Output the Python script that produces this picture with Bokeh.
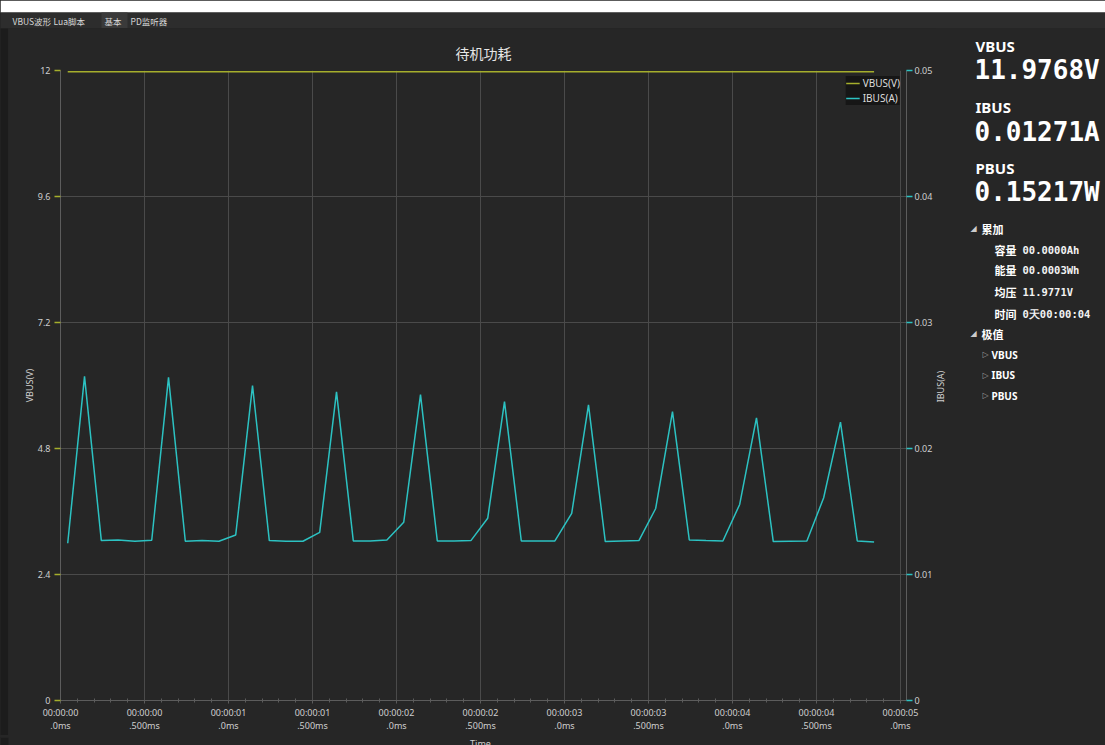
import math
from bokeh.plotting import figure
from bokeh.layouts import row, column
from bokeh.models import (Range1d, LinearAxis, FixedTicker, Label, Legend, LegendItem)
from bokeh.embed import file_html
from bokeh.resources import INLINE

# ---------------- data ----------------
time_s = [0.043, 0.143, 0.243, 0.343, 0.443, 0.543, 0.643, 0.743, 0.843, 0.943,
          1.043, 1.143, 1.243, 1.343, 1.443, 1.543, 1.643, 1.743, 1.843, 1.943,
          2.043, 2.143, 2.243, 2.343, 2.443, 2.543, 2.643, 2.743, 2.843, 2.943,
          3.043, 3.143, 3.243, 3.343, 3.443, 3.543, 3.643, 3.743, 3.843, 3.943,
          4.043, 4.143, 4.243, 4.343, 4.443, 4.543, 4.643, 4.743, 4.843]

vbus_v = [11.977, 11.977, 11.977, 11.977, 11.977, 11.977, 11.977, 11.977, 11.977, 11.977,
          11.977, 11.977, 11.977, 11.977, 11.977, 11.977, 11.977, 11.977, 11.977, 11.977,
          11.977, 11.977, 11.977, 11.977, 11.977, 11.977, 11.977, 11.977, 11.977, 11.977,
          11.977, 11.977, 11.977, 11.977, 11.977, 11.977, 11.977, 11.977, 11.977, 11.977,
          11.977, 11.977, 11.977, 11.977, 11.977, 11.977, 11.977, 11.977, 11.977]

ibus_a = [0.01248, 0.02573, 0.01269, 0.01274, 0.01264, 0.01272, 0.02565, 0.01264, 0.01269, 0.01264,
          0.01314, 0.02499, 0.01269, 0.01264, 0.01264, 0.01335, 0.02450, 0.01266, 0.01266, 0.01274,
          0.01414, 0.02427, 0.01266, 0.01266, 0.01269, 0.01446, 0.02372, 0.01266, 0.01266, 0.01266,
          0.01485, 0.02346, 0.01261, 0.01266, 0.01269, 0.01524, 0.02293, 0.01274, 0.01269, 0.01266,
          0.01556, 0.02243, 0.01261, 0.01264, 0.01266, 0.01609, 0.02209, 0.01266, 0.01258]

x_tick_values = [0.0, 0.5, 1.0, 1.5, 2.0, 2.5, 3.0, 3.5, 4.0, 4.5, 5.0]
x_tick_labels = ["00:00:00\n.0ms", "00:00:00\n.500ms", "00:00:01\n.0ms", "00:00:01\n.500ms",
                 "00:00:02\n.0ms", "00:00:02\n.500ms", "00:00:03\n.0ms", "00:00:03\n.500ms",
                 "00:00:04\n.0ms", "00:00:04\n.500ms", "00:00:05\n.0ms"]
x_minor_ticks = [0.1, 0.2, 0.3, 0.4, 0.6, 0.7, 0.8, 0.9, 1.1, 1.2, 1.3, 1.4, 1.6, 1.7, 1.8, 1.9,
                 2.1, 2.2, 2.3, 2.4, 2.6, 2.7, 2.8, 2.9, 3.1, 3.2, 3.3, 3.4, 3.6, 3.7, 3.8, 3.9,
                 4.1, 4.2, 4.3, 4.4, 4.6, 4.7, 4.8, 4.9]
vbus_ticks = [0, 2.4, 4.8, 7.2, 9.6, 12]
ibus_ticks = [0, 0.01, 0.02, 0.03, 0.04, 0.05]

chart_title = "待机功耗"
x_title = "Time"
y_title_left = "VBUS(V)"
y_title_right = "IBUS(A)"
tab_names = ["VBUS波形", "Lua脚本", "基本", "PD监听器"]
live_names = ["VBUS", "IBUS", "PBUS"]
live_values = ["11.9768V", "0.01271A", "0.15217W"]
acc_names = ["容量", "能量", "均压", "时间"]
acc_values = ["00.0000Ah", "00.0003Wh", "11.9771V", "0天00:00:04"]
extreme_names = ["VBUS", "IBUS", "PBUS"]

# ---------------- style ----------------
BG = "#262626"
EDGE_BG = "#1c1c1c"
TAB_BG = "#2d2d2d"
GRID = "#4a4a4a"
AXIS = "#5c5c5c"
TXT = "#cfcfcf"
VCOL = "#a5ae2c"
ICOL = "#2cc2c2"
UI_FONT = "Noto Sans"
CJK_FONT = "Noto Sans CJK SC"
MONO = "DejaVu Sans Mono"

EDGE_W = 8
MAIN_RIGHT = 935
MID_H = 707


def panel(w, h, x0, y0, bg=BG):
    # a blank canvas whose data units are window pixels (y downwards)
    return figure(width=w, height=h, output_backend="svg", toolbar_location=None,
                  title=None,
                  x_range=Range1d(x0, x0 + w), y_range=Range1d(y0 + h, y0),
                  x_axis_type=None, y_axis_type=None,
                  min_border_left=0, min_border_right=0, min_border_top=0, min_border_bottom=0,
                  background_fill_color=bg, border_fill_color=bg, outline_line_color=None)


def lab(f, text, x, y, size, color="#ffffff", font=UI_FONT, style="normal",
        align="left", baseline="alphabetic", angle=0.0):
    f.add_layout(Label(x=x, y=y, text=text, text_font=font, text_font_size=size,
                       text_font_style=style, text_color=color, text_align=align,
                       text_baseline=baseline, angle=angle))


# ---------------- top strip (tabs) ----------------
top = panel(1105, 28, 0, 0)
top.quad(left=[0], right=[1105], top=[0], bottom=[12], fill_color="#ffffff", line_color=None)
top.quad(left=[0], right=[1105], top=[12], bottom=[28], fill_color=TAB_BG, line_color=None)
top.quad(left=[101], right=[127], top=[12], bottom=[28], fill_color="#3a3a3a", line_color=None)
tab_x = [12, 53, 104, 130]
for name, x in zip(tab_names, tab_x):
    lab(top, name, x, 20.5, "8.5px", color="#d8d8d8", font=CJK_FONT)

# ---------------- left window edge ----------------
edge = panel(EDGE_W, MID_H, 0, 28, bg=EDGE_BG)

# ---------------- main chart ----------------
p = figure(width=MAIN_RIGHT - EDGE_W, height=MID_H, output_backend="svg", toolbar_location=None,
           x_range=Range1d(0, 5.036), y_range=Range1d(0, 12),
           min_border_left=60 - EDGE_W, min_border_right=MAIN_RIGHT - 906, min_border_top=42,
           min_border_bottom=MID_H - 42 - 633,
           background_fill_color=BG, border_fill_color=BG, outline_line_color=None,
           title=chart_title)
p.title.align = "center"
p.title.text_font = CJK_FONT
p.title.text_font_size = "14px"
p.title.text_font_style = "normal"
p.title.text_color = "#e6e6e6"
p.title.standoff = 15

xa = p.xaxis[0]
xa.ticker = FixedTicker(ticks=x_tick_values, minor_ticks=x_minor_ticks)
xa.major_label_overrides = {v: t for v, t in zip(x_tick_values, x_tick_labels)}
xa.axis_line_color = AXIS
xa.major_tick_line_color = AXIS
xa.major_tick_out = 3
xa.major_tick_in = 0
xa.minor_tick_line_color = AXIS
xa.minor_tick_out = 2
xa.minor_tick_in = 2
xa.major_label_text_color = TXT
xa.major_label_text_font = UI_FONT
xa.major_label_text_font_size = "9px"
xa.major_label_text_line_height = 1.05
xa.major_label_standoff = 2

p.extra_y_ranges = {"ibus": Range1d(0, 0.05)}

ya = p.yaxis[0]
ya.ticker = FixedTicker(ticks=vbus_ticks)
ya.axis_line_color = AXIS
ya.major_tick_line_color = VCOL
ya.major_tick_line_width = 1.5
ya.major_tick_out = 6
ya.major_tick_in = 0
ya.minor_tick_line_color = None
ya.major_label_text_color = TXT
ya.major_label_text_font = UI_FONT
ya.major_label_text_font_size = "9px"
ya.major_label_standoff = 4
ya.axis_label = y_title_left
ya.axis_label_text_font = UI_FONT
ya.axis_label_text_font_size = "9px"
ya.axis_label_text_font_style = "normal"
ya.axis_label_text_color = TXT
ya.axis_label_standoff = -1

ra = LinearAxis(y_range_name="ibus", ticker=FixedTicker(ticks=ibus_ticks))
ra.axis_line_color = AXIS
ra.major_tick_line_color = ICOL
ra.major_tick_line_width = 1.5
ra.major_tick_out = 6
ra.major_tick_in = 0
ra.minor_tick_line_color = None
ra.major_label_text_color = TXT
ra.major_label_text_font = UI_FONT
ra.major_label_text_font_size = "9px"
ra.major_label_standoff = 2
p.add_layout(ra, "right")

p.xgrid.ticker = FixedTicker(ticks=x_tick_values)
p.ygrid.ticker = FixedTicker(ticks=vbus_ticks)
p.xgrid.grid_line_color = GRID
p.ygrid.grid_line_color = GRID

r_v = p.line(time_s, vbus_v, line_color=VCOL, line_width=1.6)
r_i = p.line(time_s, ibus_a, y_range_name="ibus", line_color=ICOL, line_width=1.5)

legend = Legend(items=[LegendItem(label="VBUS(V)", renderers=[r_v]),
                       LegendItem(label="IBUS(A)", renderers=[r_i])],
                location="top_right", margin=6, padding=8, spacing=1,
                glyph_width=14, glyph_height=12, label_height=12, label_standoff=3,
                background_fill_color="#161616", background_fill_alpha=1.0,
                border_line_color=None, label_text_color="#dddddd",
                label_text_font=UI_FONT, label_text_font_size="10px")
p.add_layout(legend)

# ---------------- right info panel ----------------
side = panel(1105 - MAIN_RIGHT, MID_H, MAIN_RIGHT, 28)

lab(side, y_title_right, 940, 386, "9px", color=TXT, font=UI_FONT,
    align="center", baseline="middle", angle=math.pi / 2)

name_y = [45, 106, 167]
val_y = [69.5, 131, 191]
for n, v, y1, y2 in zip(live_names, live_values, name_y, val_y):
    lab(side, n, 975, y1, "15px", color="#ffffff", font=UI_FONT, style="bold")
    lab(side, v, 974, y2, "26px", color="#ffffff", font=MONO, style="bold")

lab(side, "◢", 970, 228, "8px", color="#cccccc", font="DejaVu Sans")
lab(side, "累加", 981, 228, "11px", color="#ffffff", font=CJK_FONT, style="bold")
acc_y = [249, 269.5, 291.5, 313]
for n, v, y in zip(acc_names, acc_values, acc_y):
    lab(side, n, 994, y, "11px", color="#ffffff", font=CJK_FONT, style="bold")
    lab(side, v, 1022, y, "10.5px", color="#f2f2f2", font=MONO, style="bold")

lab(side, "◢", 970, 333, "8px", color="#cccccc", font="DejaVu Sans")
lab(side, "极值", 981, 333, "11px", color="#ffffff", font=CJK_FONT, style="bold")
ext_y = [354, 374.5, 395]
for n, y in zip(extreme_names, ext_y):
    lab(side, "▷", 982, y, "8px", color="#999999", font="DejaVu Sans")
    lab(side, n, 991, y, "10px", color="#ffffff", font=UI_FONT, style="bold")

# ---------------- bottom strip (x axis title, cut by the window edge) ----------------
BOT_Y0 = 28 + MID_H
bottom = panel(1105, 745 - BOT_Y0, 0, BOT_Y0)
bottom.quad(left=[0], right=[EDGE_W], top=[BOT_Y0], bottom=[745], fill_color=EDGE_BG,
            line_color=None)
lab(bottom, x_title, 480, 741, "9px", color=TXT, align="center")

middle = row(column(edge), column(p), column(side), styles={"background-color": BG})
layout = column(top, middle, bottom, styles={"background-color": BG})
open("out.html", "w").write(file_html(layout, INLINE))
